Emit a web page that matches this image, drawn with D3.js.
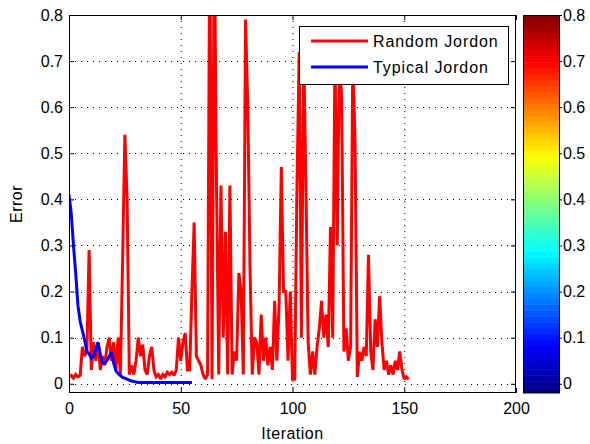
<!DOCTYPE html>
<html><head><meta charset="utf-8">
<script src="https://cdn.jsdelivr.net/npm/d3@7"></script>
<style>
html,body{margin:0;padding:0;background:#fff;}
svg{display:block;font-family:"Liberation Sans",Arial,sans-serif;}
</style></head>
<body><svg id="c" width="590" height="444"></svg>
<script>
// ---- data ----
const randomJordon = [
0.015,0.018,0.012,0.02,0.015,0.018,0.08,0.06,0.07,0.29,
0.03,0.09,0.05,0.09,0.03,0.06,0.04,0.08,0.1,0.05,
0.09,0.03,0.1,0.02,0.27,0.54,0.4,0.02,0.04,0.02,
0.05,0.1,0.06,0.085,0.03,0.02,0.06,0.08,0.03,0.015,
0.02,0.01,0.02,0.015,0.025,0.02,0.025,0.018,0.03,0.1,
0.05,0.09,0.11,0.03,0.03,0.2,0.35,0.06,0.05,0.04,
0.02,0.01,0.02,1.0,0.01,1.0,0.43,0.02,0.43,0.1,
0.33,0.02,0.43,0.02,0.07,0.05,0.24,0.2,0.02,0.79,
0.6,0.25,0.02,0.1,0.09,0.02,0.15,0.05,0.1,0.04,
0.08,0.03,0.18,0.05,0.17,0.47,0.2,0.2,0.05,0.2,
0.01,0.01,0.43,0.72,0.1,0.73,0.43,0.09,0.02,0.07,
0.02,0.08,0.12,0.18,0.1,0.15,0.08,0.34,0.1,0.72,
0.3,0.71,0.62,0.07,0.12,0.05,0.08,0.72,0.52,0.015,
0.07,0.05,0.08,0.06,0.28,0.07,0.03,0.14,0.08,0.19,
0.09,0.03,0.05,0.02,0.04,0.02,0.05,0.03,0.07,0.03,
0.01,0.015,0.01];
const typicalJordon = [
0.41,0.37,0.30,0.24,0.17,0.135,0.115,0.095,0.07,0.065,
0.055,0.06,0.075,0.09,0.065,0.045,0.045,0.05,0.06,0.068,
0.045,0.028,0.022,0.018,0.014,0.012,0.01,0.008,0.006,0.005,
0.004,0.003,0.003,0.003,0.003,0.003,0.003,0.003,0.003,0.003,
0.003,0.003,0.003,0.003,0.003,0.003,0.003,0.003,0.003,0.003,
0.003,0.003,0.003,0.003,0.003,0.003];
const seriesNames = ["Random Jordon","Typical Jordon"];
const seriesColors = ["#ff0000","#0000ff"];
const xTicks = [0,50,100,150,200];
const yTicks = [0,0.1,0.2,0.3,0.4,0.5,0.6,0.7,0.8];
const cbarTicks = [0,0.1,0.2,0.3,0.4,0.5,0.6,0.7,0.8];
const xLabel = "Iteration", yLabel = "Error";

// ---- layout ----
const L=69,R=516,T=15,B=393;
const svg=d3.select("#c");
const x=d3.scaleLinear().domain([0,200]).range([L,R]);
const y=d3.scaleLinear().domain([-0.02,0.8]).range([B,T]);

svg.append("defs").append("clipPath").attr("id","clip")
  .append("rect").attr("x",L).attr("y",T).attr("width",R-L).attr("height",B-T);

// grid
const grid=svg.append("g").attr("stroke","#000").attr("stroke-width",1).attr("stroke-dasharray","1,5");
grid.selectAll(".gx").data(xTicks.slice(1,-1)).join("line")
  .attr("x1",d=>x(d)+0.5).attr("x2",d=>x(d)+0.5).attr("y1",T).attr("y2",B);
grid.selectAll(".gy").data(yTicks.slice(0,-1)).join("line")
  .attr("y1",d=>Math.round(y(d))+0.5).attr("y2",d=>Math.round(y(d))+0.5).attr("x1",L).attr("x2",R);

// lines
const line=d3.line().x((d,i)=>x(i)).y(d=>y(d));
const plot=svg.append("g").attr("clip-path","url(#clip)");
[randomJordon,typicalJordon].forEach((s,k)=>{
  plot.append("path").datum(s).attr("d",line).attr("fill","none")
    .attr("stroke",seriesColors[k]).attr("stroke-width",3).attr("stroke-linejoin","miter").attr("stroke-miterlimit",2);
});

// axes
function style(g){g.select(".domain").remove();g.selectAll("line").attr("stroke","#000");
  g.selectAll("text").attr("font-size",16).attr("fill","#000").attr("font-family","Liberation Sans, Arial, sans-serif");}
svg.append("g").attr("transform",`translate(0,${B})`)
  .call(d3.axisBottom(x).tickValues(xTicks).tickSize(-5).tickPadding(10).tickFormat(d3.format("d"))).call(style);
svg.append("g").attr("transform",`translate(0,${T})`)
  .call(d3.axisTop(x).tickValues(xTicks).tickSize(-5).tickFormat("")).call(style);
svg.append("g").attr("transform",`translate(${L},0)`)
  .call(d3.axisLeft(y).tickValues(yTicks).tickSize(-5).tickPadding(6).tickFormat(d=>d===0?"0":d3.format(".1f")(d))).call(style);
svg.append("g").attr("transform",`translate(${R},0)`)
  .call(d3.axisRight(y).tickValues(yTicks).tickSize(-5).tickFormat("")).call(style);
svg.append("rect").attr("x",L+0.5).attr("y",T+0.5).attr("width",R-L-1).attr("height",B-T-1)
  .attr("fill","none").attr("stroke","#000").attr("stroke-width",1);

// labels
svg.append("text").attr("x",(L+R)/2).attr("y",439).attr("text-anchor","middle")
  .attr("font-size",16).attr("letter-spacing",0.5).text(xLabel);
svg.append("text").attr("transform",`translate(22,${(T+B)/2}) rotate(-90)`).attr("text-anchor","middle")
  .attr("font-size",16).attr("letter-spacing",0.5).text(yLabel);

// legend
const lg=svg.append("g");
lg.append("rect").attr("x",299.5).attr("y",26.5).attr("width",209).attr("height",58)
  .attr("fill","#fff").attr("stroke","#000").attr("stroke-width",1);
seriesNames.forEach((n,k)=>{
  const yy=[41,67][k];
  lg.append("line").attr("x1",311).attr("x2",368).attr("y1",yy).attr("y2",yy)
    .attr("stroke",seriesColors[k]).attr("stroke-width",3);
  lg.append("text").attr("x",373).attr("y",yy+6).attr("font-size",16).attr("letter-spacing",0.9).text(n);
});

// colorbar
function jet(f){const c=v=>Math.max(0,Math.min(1,v));
  return d3.rgb(255*c(1.5-Math.abs(4*f-3)),255*c(1.5-Math.abs(4*f-2)),255*c(1.5-Math.abs(4*f-1)));}
const CX0=523,CX1=560, nC=64;
const cb=d3.scaleLinear().domain([0,nC]).range([B,T]);
svg.append("g").selectAll("rect").data(d3.range(nC)).join("rect")
  .attr("x",CX0).attr("width",CX1-CX0).attr("y",d=>cb(d+1)).attr("height",d=>cb(d)-cb(d+1)+0.5)
  .attr("fill",d=>jet((d+0.5)/nC));
svg.append("rect").attr("x",CX0+0.5).attr("y",T+0.5).attr("width",CX1-CX0-1).attr("height",B-T-1)
  .attr("fill","none").attr("stroke","#000");
svg.append("g").attr("transform",`translate(${CX1},0)`)
  .call(d3.axisRight(y).tickValues(cbarTicks).tickSize(2).tickPadding(1).tickFormat(d=>d===0?"0":d3.format(".1f")(d))).call(style);
</script></body></html>
